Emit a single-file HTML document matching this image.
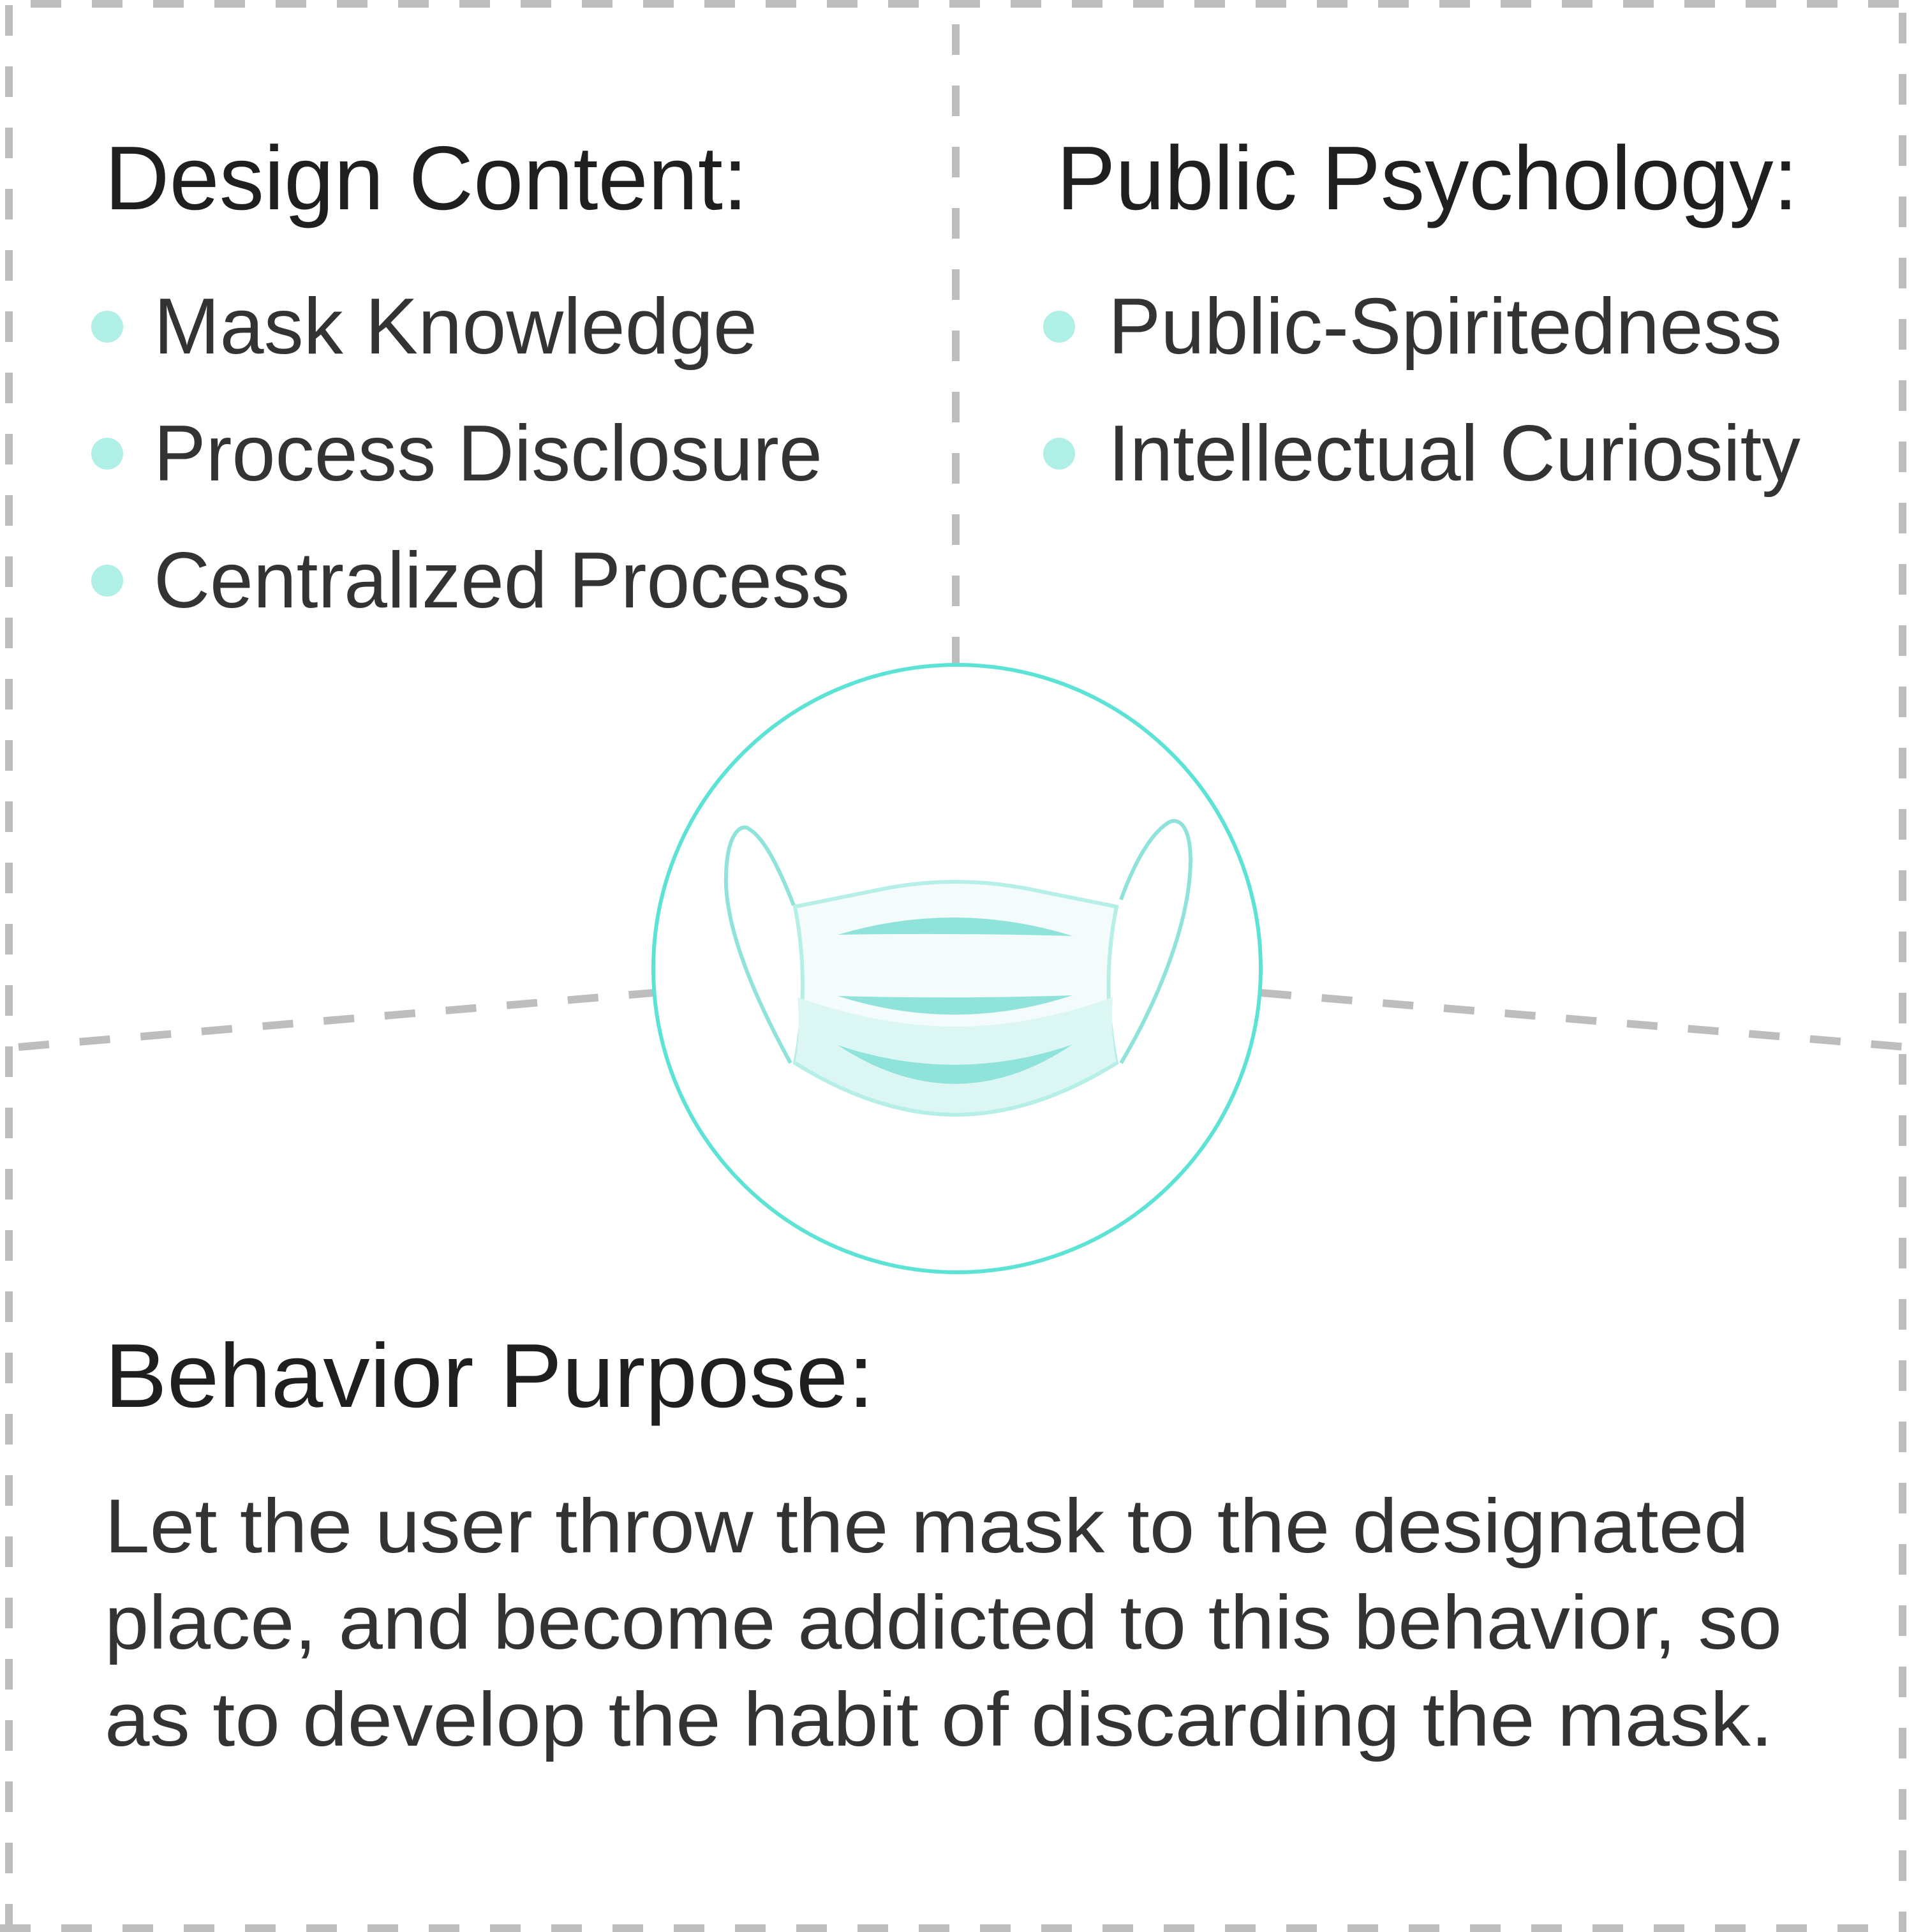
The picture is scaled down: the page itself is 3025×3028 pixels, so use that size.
<!DOCTYPE html>
<html><head><meta charset="utf-8"><style>
html,body{margin:0;padding:0;background:#fff;}
svg{display:block;}
text{font-family:"Liberation Sans",Helvetica,Arial,sans-serif;}
</style></head><body>
<svg width="3025" height="3028" viewBox="0 0 3025 3028" xmlns="http://www.w3.org/2000/svg">
<rect width="3025" height="3028" fill="#fff"/>
<g stroke="#bdbdbd" stroke-width="12" fill="none">
  <line x1="48" y1="6" x2="2990" y2="6" stroke-dasharray="48 48"/>
  <line x1="14" y1="8" x2="14" y2="3028" stroke-dasharray="48 48"/>
  <line x1="2982" y1="20" x2="2982" y2="3028" stroke-dasharray="48 48"/>
  <line x1="0" y1="3022" x2="2988" y2="3022" stroke-dasharray="48 48"/>
  <line x1="1498" y1="38" x2="1498" y2="1040" stroke-dasharray="48 48"/>
  <line x1="29" y1="1641" x2="1024" y2="1556" stroke-dasharray="48 48"/>
  <line x1="1976" y1="1556" x2="2988" y2="1641" stroke-dasharray="48 48"/>
</g>
<circle cx="1500" cy="1518" r="476" fill="#fff" stroke="#5de3d6" stroke-width="6"/>
<!-- mask -->
<g>
  <path d="M1239,1666 C1170,1540 1135,1440 1138,1370 C1140,1300 1165,1290 1175,1300 C1200,1315 1225,1370 1244,1419" fill="none" stroke="#8fe3da" stroke-width="6"/>
  <path d="M1757,1666 C1820,1560 1865,1440 1866,1350 C1866,1290 1845,1280 1830,1290 C1800,1310 1775,1360 1757,1410" fill="none" stroke="#8fe3da" stroke-width="6"/>
  <path d="M1246,1421 L1390,1392 Q1498,1372 1606,1392 L1750,1421 Q1725,1545 1750,1666 Q1620,1747 1498,1747 Q1376,1747 1246,1666 Q1270,1545 1246,1421 Z" fill="#f3fcfb" stroke="#b5efe7" stroke-width="6"/>
  <path d="M1250,1563 Q1380,1609 1498,1609 Q1616,1609 1744,1563 Q1740,1620 1750,1666 Q1620,1747 1498,1747 Q1376,1747 1246,1666 Q1255,1620 1250,1563 Z" fill="#dcf7f3"/>
  <path d="M1246,1666 Q1376,1747 1498,1747 Q1620,1747 1750,1666" fill="none" stroke="#b5efe7" stroke-width="6"/>
  <path d="M1313,1465 Q1498,1410 1681,1467 Q1498,1462 1313,1465 Z" fill="#8fe3da"/>
  <path d="M1313,1561 Q1498,1566 1681,1560 Q1498,1620 1313,1561 Z" fill="#8fe3da"/>
  <path d="M1313,1638 Q1498,1700 1681,1637 Q1498,1760 1313,1638 Z" fill="#8fe3da"/>
</g>
<g fill="#1f1f1f" font-size="142">
  <text x="164" y="328" textLength="1008" lengthAdjust="spacingAndGlyphs">Design Content:</text>
  <text x="1656" y="328" textLength="1162" lengthAdjust="spacingAndGlyphs">Public Psychology:</text>
  <text x="164" y="2205" textLength="1206" lengthAdjust="spacingAndGlyphs">Behavior Purpose:</text>
</g>
<g fill="#b0efe6">
  <circle cx="168" cy="512" r="25"/><circle cx="168" cy="711" r="25"/><circle cx="168" cy="910" r="25"/>
  <circle cx="1660" cy="512" r="25"/><circle cx="1660" cy="711" r="25"/>
</g>
<g fill="#333" font-size="124">
  <text x="241" y="554" textLength="946" lengthAdjust="spacingAndGlyphs">Mask Knowledge</text>
  <text x="241" y="753" textLength="1048" lengthAdjust="spacingAndGlyphs">Process Disclosure</text>
  <text x="241" y="952" textLength="1091" lengthAdjust="spacingAndGlyphs">Centralized Process</text>
  <text x="1737" y="554" textLength="1056" lengthAdjust="spacingAndGlyphs">Public-Spiritedness</text>
  <text x="1737" y="753" textLength="1085" lengthAdjust="spacingAndGlyphs">Intellectual Curiosity</text>
</g>
<g fill="#333" font-size="120">
  <text x="164" y="2433" textLength="2577" lengthAdjust="spacingAndGlyphs">Let the user throw the mask to the designated</text>
  <text x="164" y="2584" textLength="2629" lengthAdjust="spacingAndGlyphs">place, and become addicted to this behavior, so</text>
  <text x="164" y="2736" textLength="2615" lengthAdjust="spacingAndGlyphs">as to develop the habit of discarding the mask.</text>
</g>
</svg>
</body></html>
